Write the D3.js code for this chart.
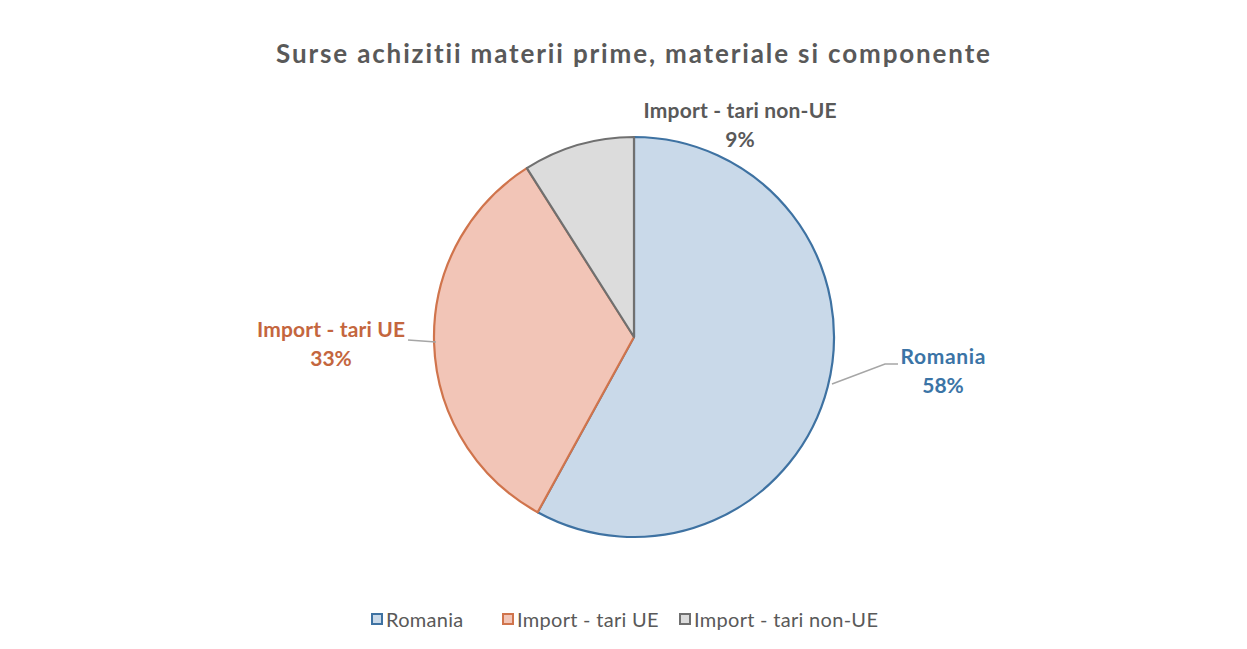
<!DOCTYPE html>
<html><head><meta charset="utf-8">
<script src="https://cdn.jsdelivr.net/npm/d3@7"></script>
<style>body{margin:0;background:#fff}svg{display:block}text{font-variant-ligatures:none;font-feature-settings:"liga" 0}</style>
</head><body>
<svg id="c" width="1247" height="649"></svg>
<script>
const categories = ["Romania", "Import - tari UE", "Import - tari non-UE"];
const values = [58, 33, 9];
const labelsPct = ["58%", "33%", "9%"];
const fills = ["#c9d9e9", "#f2c5b7", "#dcdcdc"];
const strokes = ["#3e72a2", "#d0744c", "#707070"];
const labelColors = ["#3b74a6", "#c4663e", "#595959"];

const svg = d3.select("#c");
const font = "Lato, 'Open Sans', sans-serif";
const cx = 634, cy = 337, r = 200;

svg.append("rect").attr("x",0).attr("y",0).attr("width",1247).attr("height",649).attr("fill","#fff");

svg.append("text").attr("x",276).attr("y",63)
  .attr("font-family",font).attr("font-weight","bold").attr("font-size",26)
  .attr("textLength",714).attr("lengthAdjust","spacing")
  .attr("fill","#595959").text("Surse achizitii materii prime, materiale si componente");

const pie = d3.pie().sort(null).value(d=>d);
const arcs = pie(values);
const arc = d3.arc().innerRadius(0).outerRadius(r);
const g = svg.append("g").attr("transform",`translate(${cx},${cy})`);
g.selectAll("path").data(arcs).join("path")
  .attr("d",arc).attr("fill",(d,i)=>fills[i]).attr("stroke",(d,i)=>strokes[i]).attr("stroke-width",2.2)
  .attr("stroke-linejoin","round");

// labels
const labelPos = [[943,357],[331,330],[740,111]];
const nameW = [85, 148, 193];
const lineGap = 29;
categories.forEach((c,i)=>{
  const t = svg.append("text").attr("text-anchor","middle").attr("font-family",font)
    .attr("font-weight","bold").attr("font-size",21).attr("fill",labelColors[i]);
  t.append("tspan").attr("x",labelPos[i][0]).attr("y",labelPos[i][1]+7)
    .attr("textLength",nameW[i]).attr("lengthAdjust","spacing").text(c);
  t.append("tspan").attr("x",labelPos[i][0]).attr("y",labelPos[i][1]+7+lineGap).text(labelsPct[i]);
});
// leader lines
const lp = d3.line();
svg.append("path").attr("d",lp([[832,384],[885,364],[898,364]])).attr("fill","none").attr("stroke","#a6a6a6").attr("stroke-width",1.5);
svg.append("path").attr("d",lp([[408,340],[436,342]])).attr("fill","none").attr("stroke","#a6a6a6").attr("stroke-width",1.5);

// legend
const legX = [372, 503, 680];
categories.forEach((c,i)=>{
  svg.append("rect").attr("x",legX[i]).attr("y",614).attr("width",10).attr("height",10)
    .attr("fill",fills[i]).attr("stroke",strokes[i]).attr("stroke-width",2);
  svg.append("text").attr("x",legX[i]+14).attr("y",627).attr("font-family",font)
    .attr("font-size",20).attr("letter-spacing",0.3)
    .attr("fill","#595959").text(c);
});
</script>
</body></html>
